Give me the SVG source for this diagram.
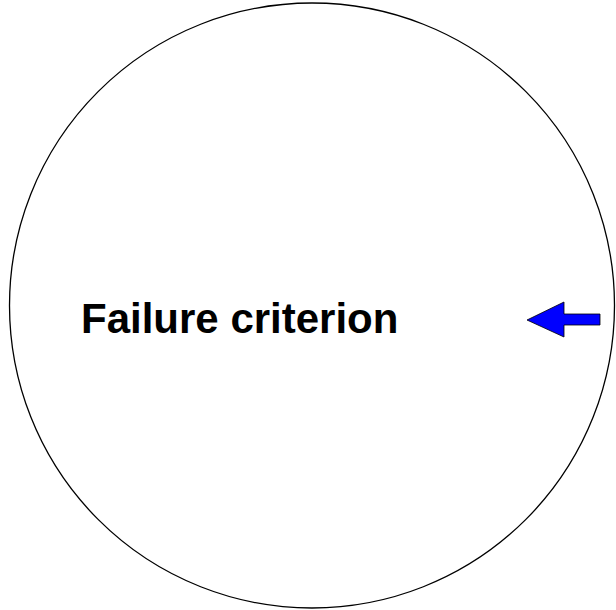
<svg xmlns="http://www.w3.org/2000/svg" width="616" height="610" viewBox="0 0 616 610">
<style>
.lbl{font-family:"Liberation Sans",Arial,sans-serif;font-weight:bold;font-size:42px;fill:#000}
</style>
<rect width="616" height="610" fill="#fff"/>
<g id="node-failure">
<ellipse cx="312" cy="305.5" rx="302.5" ry="302.5" fill="#fff" stroke="#000" stroke-width="1.3"/>
<text class="lbl" x="81" y="333">Failure criterion</text>
</g>
<g id="connectors">
<path d="M527,320 L564,302 L564,314 L600,314 L600,325 L564,325 L564,337 Z" fill="#0000ff" stroke="#000" stroke-width="0.8"/>
</g>
</svg>
